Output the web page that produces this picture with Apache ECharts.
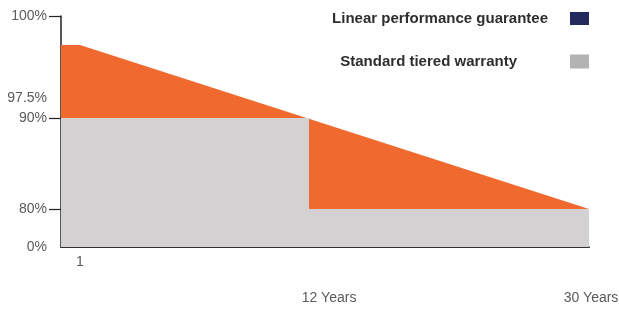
<!DOCTYPE html>
<html style="height: 100%">

<head>
  <meta charset="utf-8">
  <title>Linear performance guarantee vs standard tiered warranty</title>
  <style type="text/css">
    body {
      margin: 0;
      background: #ffffff;
    }
  </style>
</head>

<body style="height: 100%; margin: 0;">
  <div id="container" style="width: 619px; height: 309px"></div>

  <script type="text/javascript" src="https://cdn.jsdelivr.net/npm/echarts@6/dist/echarts.min.js"></script>

  <script type="text/javascript">
    // data (years, percent of power)
    var linearYears = [0, 1, 30];
    var linearPct = [97.5, 97.5, 80];
    var tieredYears = [0, 12, 12, 30];
    var tieredPct = [90, 90, 80, 80];

    var xLabelYears = [1, 12, 30];
    var xLabelText = ['1', '12 Years', '30 Years'];
    var yTickPct = [80, 90, 100];
    // the picture prints "97.5%" just above the 90% line
    var yLabelPct = [0, 80, 90, 92, 100];
    var yLabelText = ['0%', '80%', '90%', '97.5%', '100%'];

    // the drawing is not to scale, so both axes are piecewise
    var xKnots = [0, 1, 12, 30];
    var xKnotPos = [0, 3.6, 46.97, 100];
    var yKnots = [0, 80, 90, 97.5, 100];
    var yKnotPos = [0, 16.45, 55.84, 87.45, 100];

    function piecewise(v, knots, pos) {
      for (var i = 1; i < knots.length; i++) {
        if (v <= knots[i]) {
          var t = (v - knots[i - 1]) / (knots[i] - knots[i - 1]);
          return pos[i - 1] + t * (pos[i] - pos[i - 1]);
        }
      }
      return pos[pos.length - 1];
    }
    function toX(y) { return piecewise(y, xKnots, xKnotPos); }
    function toY(p) { return piecewise(p, yKnots, yKnotPos); }

    function pairs(xs, ys) {
      return xs.map(function (x, i) { return [toX(x), toY(ys[i])]; });
    }
    function lookup(val, list) {
      for (var i = 0; i < list.length; i++) {
        if (Math.abs(list[i] - val) < 0.01) return i;
      }
      return -1;
    }

    var xLabelPos = xLabelYears.map(toX);
    var yLabelPos = yLabelPct.map(toY);

    var dom = document.getElementById('container');
    var chart = echarts.init(dom);

    var option = {
      animation: false,
      grid: { left: 61, right: 30, top: 16, bottom: 62, outerBoundsMode: 'none', containLabel: false },
      legend: [
        {
          data: [{ name: 'Linear performance guarantee', itemStyle: { color: '#232a5e' } }],
          right: 30, top: 11, padding: 0,
          align: 'right', icon: 'rect', itemWidth: 19, itemHeight: 13,
          selectedMode: false,
          textStyle: { fontFamily: 'Liberation Sans', fontWeight: 'bold', fontSize: 15, color: '#2e2e2e', padding: [1, 17, 0, 0] }
        },
        {
          data: [{ name: 'Standard tiered warranty', itemStyle: { color: '#b4b3b4' } }],
          right: 30, top: 54, padding: 0,
          align: 'right', icon: 'rect', itemWidth: 19, itemHeight: 14,
          selectedMode: false,
          textStyle: { fontFamily: 'Liberation Sans', fontWeight: 'bold', fontSize: 15, color: '#2e2e2e', padding: [4, 48, 0, 0] }
        }
      ],
      xAxis: {
        type: 'value', min: 0, max: 100,
        splitLine: { show: false },
        axisLine: { show: true, lineStyle: { color: '#333333', width: 2 } },
        axisTick: { show: false },
        axisLabel: {
          customValues: xLabelPos,
          margin: 8,
          fontFamily: 'Liberation Sans', fontSize: 14, color: '#5a5a5a',
          formatter: function (val) {
            var i = lookup(val, xLabelPos);
            if (i === 0) return '{near|' + xLabelText[i] + '}';
            if (i === 1) return '{mid|' + xLabelText[i] + '}';
            if (i === 2) return '{far|' + xLabelText[i] + '}';
            return '';
          },
          rich: {
            near: { fontFamily: 'Liberation Sans', fontSize: 14, color: '#5a5a5a' },
            mid: { fontFamily: 'Liberation Sans', fontSize: 14, color: '#5a5a5a', padding: [36, 0, 0, 40] },
            far: { fontFamily: 'Liberation Sans', fontSize: 14, color: '#5a5a5a', padding: [36, 0, 0, 4] }
          }
        }
      },
      yAxis: {
        type: 'value', min: 0, max: 100,
        splitLine: { show: false },
        axisLine: { show: true, lineStyle: { color: '#222222', width: 1.5 } },
        axisTick: { show: true, customValues: yTickPct.map(toY), length: 12, lineStyle: { color: '#222222', width: 1.2 } },
        axisLabel: {
          customValues: yLabelPos,
          margin: 14,
          fontFamily: 'Liberation Sans', fontSize: 14, color: '#5a5a5a',
          formatter: function (val) {
            var i = lookup(val, yLabelPos);
            return i >= 0 ? yLabelText[i] : '';
          }
        }
      },
      series: [
        {
          name: 'Linear performance guarantee',
          type: 'line',
          data: pairs(linearYears, linearPct),
          symbol: 'none',
          lineStyle: { width: 0 },
          itemStyle: { color: '#f0692f' },
          areaStyle: { color: '#f0692f', opacity: 1 }
        },
        {
          name: 'Standard tiered warranty',
          type: 'line',
          data: pairs(tieredYears, tieredPct),
          symbol: 'none',
          lineStyle: { width: 0 },
          itemStyle: { color: '#d3d1d2' },
          areaStyle: { color: '#d3d1d2', opacity: 1 }
        }
      ]
    };

    chart.setOption(option);
  </script>
</body>

</html>
